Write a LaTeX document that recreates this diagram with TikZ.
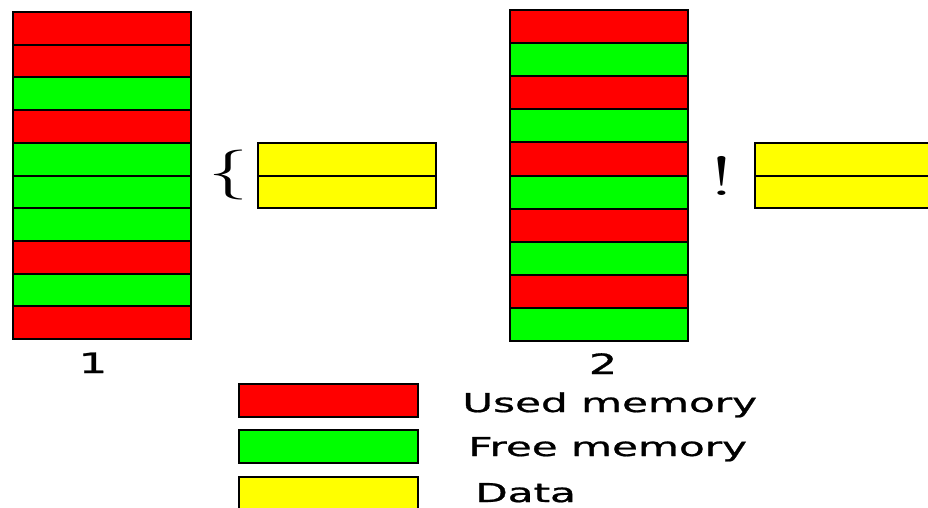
\documentclass[tikz,border=0pt]{standalone}
\usepackage{fontspec}
\newfontfamily\labelfont[FakeBold=0.8]{DejaVu Sans}
\definecolor{usedred}{RGB}{255,0,0}
\definecolor{freegreen}{RGB}{0,255,0}
\definecolor{datayellow}{RGB}{255,255,0}
\tikzset{
  cell/.style={draw=black, line width=2pt, minimum width=178pt, inner sep=0pt, outer sep=0pt},
  used/.style={cell, fill=usedred},
  free/.style={cell, fill=freegreen},
  datacell/.style={cell, fill=datayellow},
  legendtext/.style={font=\labelfont\fontsize{26}{30}\selectfont, xscale=1.62, inner sep=0pt, anchor=base west},
  numtext/.style={font=\labelfont\fontsize{28}{32}\selectfont, xscale=1.6, inner sep=0pt, anchor=base},
}
\begin{document}
\begin{tikzpicture}[x=1pt, y=-1pt]
\useasboundingbox (0,0) rectangle (928,508);
\clip (0,0) rectangle (928,508);

% memory layout 1: 10 blocks, some used, some free
\foreach \i/\kind in {1/used,2/used,3/free,4/used,5/free,6/free,7/free,8/used,9/free,10/used}{
  \node[\kind, minimum height=32.7pt] (a\i) at (101.5, {12 + 32.7*(\i-0.5)}) {};
}
% data to place (two blocks)
\node[datacell, minimum height=32.5pt] (d1a) at (347, 159.25) {};
\node[datacell, minimum height=32.5pt] (d1b) at (347, 191.75) {};
\node[inner sep=0pt, font=\fontsize{50}{60}\selectfont, xscale=1.6] (brace) at (228,175) {\{};
\node[numtext] (n1) at (93,373) {1};

% memory layout 2: alternating used and free blocks
\foreach \i/\kind in {1/used,2/free,3/used,4/free,5/used,6/free,7/used,8/free,9/used,10/free}{
  \node[\kind, minimum height=33.1pt] (b\i) at (599, {10 + 33.1*(\i-0.5)}) {};
}
\node[datacell, minimum height=32.5pt] (d2a) at (844, 159.25) {};
\node[datacell, minimum height=32.5pt] (d2b) at (844, 191.75) {};
\node[inner sep=0pt, font=\fontsize{55}{60}\selectfont, xscale=1.8, anchor=base] (bang) at (722,195) {!};
\node[numtext] (n2) at (603,374) {2};

% legend
\node[used, minimum width=179pt, minimum height=33pt] (lu) at (328.5,400.5) {};
\node[free, minimum width=179pt, minimum height=33pt] (lf) at (328.5,446.5) {};
\node[datacell, minimum width=179pt, minimum height=33pt] (ld) at (328.5,493.5) {};
\node[legendtext] (tu) at (462,412) {Used memory};
\node[legendtext] (tf) at (468,456) {Free memory};
\node[legendtext] (td) at (475,502) {Data};
\end{tikzpicture}
\end{document}
